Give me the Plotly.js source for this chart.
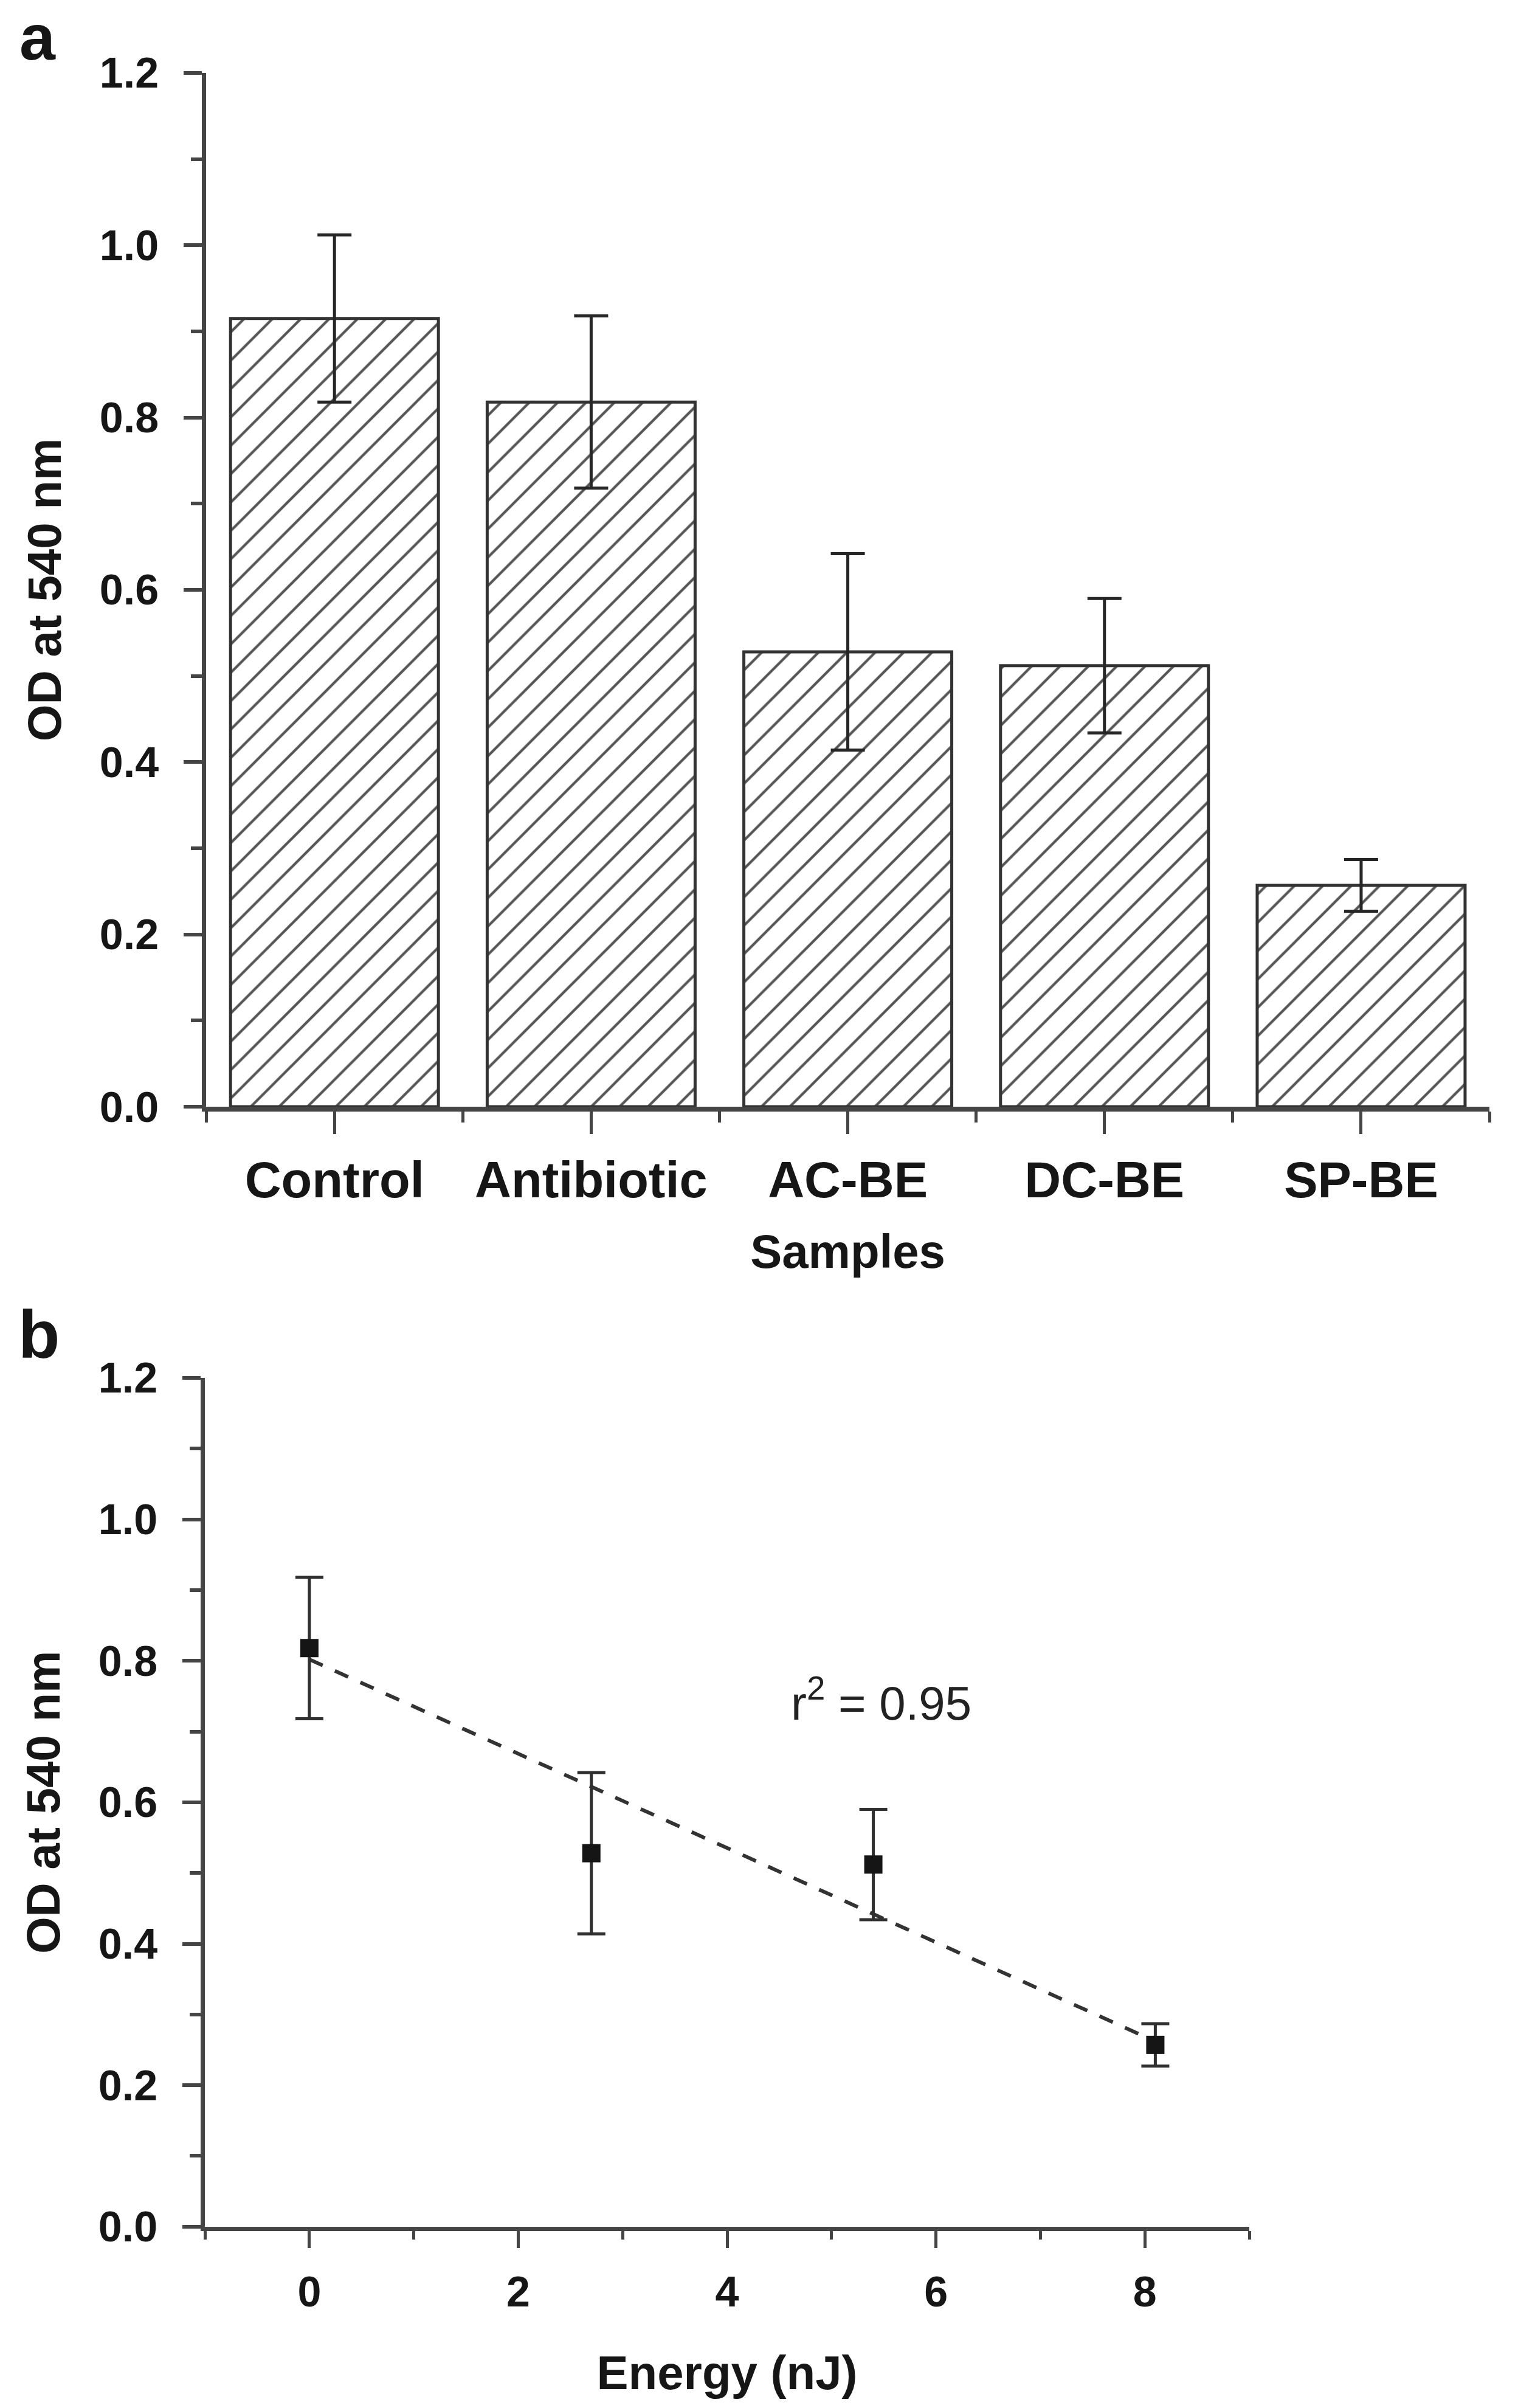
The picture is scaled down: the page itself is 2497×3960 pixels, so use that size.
<!DOCTYPE html>
<html>
<head>
<meta charset="utf-8">
<script src="https://cdn.plot.ly/plotly-3.0.1.min.js"></script>
<style>
  html, body { margin: 0; padding: 0; background: #ffffff; }
  #chart { width: 2497px; height: 3960px; }
</style>
</head>
<body>
<div id="chart"></div>
<script>
// ---- Panel a data ----
const categories = ['Control', 'Antibiotic', 'AC-BE', 'DC-BE', 'SP-BE'];
const odMean = [0.915, 0.818, 0.528, 0.512, 0.257];
const odErr = [0.097, 0.100, 0.114, 0.078, 0.030];

// ---- Panel b data ----
const energy = [0, 2.7, 5.4, 8.1];
const odEnergyMean = [0.818, 0.528, 0.512, 0.257];
const odEnergyErr = [0.100, 0.114, 0.078, 0.030];
const fitEnergy = [0, 8.1];
const fitOD = [0.802, 0.262];

// ---- Tick labels ----
const yTickVals = [0.0, 0.2, 0.4, 0.6, 0.8, 1.0, 1.2];
const yTickText = ['0.0', '0.2', '0.4', '0.6', '0.8', '1.0', '1.2'];
const energyTickVals = [0, 2, 4, 6, 8];
const energyTickText = ['0', '2', '4', '6', '8'];
const r2Label = 'r<sup>2</sup> = 0.95';

const FONT = 'Liberation Sans, Arial, sans-serif';
const AX = '#454545';
const INK = '#161616';
const catIndex = categories.map((c, i) => i);

const barTrace = {
  type: 'bar',
  x: catIndex,
  y: odMean,
  width: 0.81,
  xaxis: 'x', yaxis: 'y',
  marker: {
    color: '#ffffff',
    line: { color: '#333333', width: 5 },
    pattern: { shape: '/', fgcolor: '#555555', bgcolor: '#ffffff', size: 33, solidity: 0.13 }
  },
  error_y: { type: 'data', array: odErr, visible: true, color: '#262626', thickness: 5, width: 28 },
  hoverinfo: 'none'
};

const fitTrace = {
  type: 'scatter', mode: 'lines',
  x: fitEnergy, y: fitOD,
  xaxis: 'x2', yaxis: 'y2',
  line: { color: '#333333', width: 6, dash: '24px,22px' },
  hoverinfo: 'none'
};

const pointTrace = {
  type: 'scatter', mode: 'markers',
  x: energy, y: odEnergyMean,
  xaxis: 'x2', yaxis: 'y2',
  marker: { symbol: 'square', size: 30, color: '#151515', line: { width: 0 } },
  error_y: { type: 'data', array: odEnergyErr, visible: true, color: '#303030', thickness: 5, width: 23 },
  hoverinfo: 'none'
};

function yAxis(domain, anchor) {
  return {
    domain: domain, anchor: anchor,
    range: [0, 1.2],
    tickmode: 'array', tickvals: yTickVals, ticktext: yTickText,
    ticks: 'outside', ticklen: 30, tickwidth: 6, tickcolor: AX,
    minor: { dtick: 0.1, tick0: 0, ticks: 'outside', ticklen: 18, tickwidth: 6, tickcolor: AX },
    showline: true, linewidth: 7, linecolor: AX,
    showgrid: false, zeroline: false,
    ticklabelstandoff: 27,
    tickfont: { family: FONT, size: 70, color: INK, weight: 700 },
    title: { text: 'OD at 540 nm', font: { family: FONT, size: 78, color: INK, weight: 700 }, standoff: 40 }
  };
}

const layout = {
  width: 2497, height: 3960,
  margin: { l: 0, r: 0, t: 0, b: 0 },
  paper_bgcolor: '#ffffff', plot_bgcolor: '#ffffff',
  showlegend: false,
  xaxis: {
    domain: [0.1358, 0.9812], anchor: 'y',
    range: [-0.5, 4.5],
    tickmode: 'array', tickvals: catIndex, ticktext: categories,
    ticks: 'outside', ticklen: 37, tickwidth: 5, tickcolor: AX,
    minor: { tick0: -0.5, dtick: 1, ticks: 'outside', ticklen: 18, tickwidth: 5, tickcolor: AX },
    showline: true, linewidth: 8, linecolor: AX,
    showgrid: false, zeroline: false,
    ticklabelstandoff: 4,
    tickfont: { family: FONT, size: 83, color: INK, weight: 700 },
    title: { text: 'Samples', font: { family: FONT, size: 78, color: INK, weight: 700 }, standoff: 48 }
  },
  yaxis: yAxis([0.5404, 0.9697], 'x'),
  xaxis2: {
    domain: [0.135, 0.823], anchor: 'y2',
    range: [-1, 9],
    tickmode: 'array', tickvals: energyTickVals, ticktext: energyTickText,
    ticks: 'outside', ticklen: 28, tickwidth: 5, tickcolor: AX,
    minor: { tick0: -1, dtick: 1, ticks: 'outside', ticklen: 14, tickwidth: 5, tickcolor: AX },
    showline: true, linewidth: 7, linecolor: AX,
    showgrid: false, zeroline: false,
    ticklabelstandoff: 12,
    tickfont: { family: FONT, size: 70, color: INK, weight: 700 },
    title: { text: 'Energy (nJ)', font: { family: FONT, size: 78, color: INK, weight: 700 }, standoff: 70 }
  },
  yaxis2: yAxis([0.0753, 0.4278], 'x2'),
  annotations: [
    { text: 'a', xref: 'paper', yref: 'paper', x: 30 / 2497, y: 1,
      xanchor: 'left', yanchor: 'top', showarrow: false,
      font: { family: FONT, size: 106, color: INK, weight: 700 } },
    { text: 'b', xref: 'paper', yref: 'paper', x: 28 / 2497, y: 1 - 2194 / 3960,
      xanchor: 'left', yanchor: 'middle', showarrow: false,
      font: { family: FONT, size: 112, color: INK, weight: 700 } },
    { text: r2Label, xref: 'x2', yref: 'y2', x: 4.6, y: 0.745,
      xanchor: 'left', yanchor: 'middle', showarrow: false,
      font: { family: FONT, size: 78, color: '#222222' } }
  ]
};

Plotly.newPlot('chart', [barTrace, fitTrace, pointTrace], layout, { displayModeBar: false, staticPlot: true });
</script>
</body>
</html>
